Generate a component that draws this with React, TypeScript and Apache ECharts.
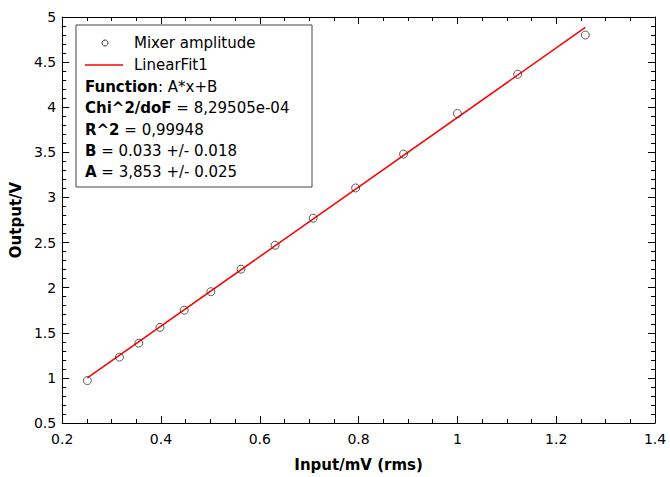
import React, { useEffect, useRef } from "react";
import * as echarts from "echarts";

const inputX = [0.251, 0.316, 0.355, 0.398, 0.447, 0.501, 0.562, 0.631, 0.708, 0.794, 0.891, 1.0, 1.122, 1.259];
const outputY = [0.97, 1.23, 1.385, 1.56, 1.75, 1.955, 2.205, 2.47, 2.77, 3.105, 3.48, 3.93, 4.365, 4.80];
const fitX = [0.251, 1.259];
const fitY = [1.0, 4.884];
const legendLines = [
  "{b|Function}: A*x+B",
  "{b|Chi^2/doF} = 8,29505e-04",
  "{b|R^2} = 0,99948",
  "{b|B} = 0.033 +/- 0.018",
  "{b|A} = 3,853 +/- 0.025",
];

const FONT = "DejaVu Sans";

export default function App() {
  const ref = useRef<HTMLDivElement>(null);
  useEffect(() => {
    const chart = echarts.init(ref.current!, null, { renderer: "svg" });
    const axisCommon = {
      axisLine: { show: true, lineStyle: { color: "#000", width: 1 } },
      splitLine: { show: false },
    };
    const lx = 76, ly = 25;
    const graphic: any[] = [
      { type: "rect", shape: { x: lx, y: ly, width: 236, height: 162 }, style: { fill: "#fff", stroke: "#444", lineWidth: 1 }, z: 100 },
      { type: "circle", shape: { cx: 105, cy: 43, r: 3 }, style: { fill: "none", stroke: "#333", lineWidth: 1 }, z: 101 },
      { type: "line", shape: { x1: 85, y1: 65, x2: 123, y2: 65 }, style: { stroke: "#ff0000", lineWidth: 1.5 }, z: 101 },
      { type: "text", x: 134, y: 43, style: { text: "Mixer amplitude", font: `15px '${FONT}'`, fill: "#000", verticalAlign: "middle" }, z: 101 },
      { type: "text", x: 134, y: 65, style: { text: "LinearFit1", font: `15px '${FONT}'`, fill: "#000", verticalAlign: "middle" }, z: 101 },
    ];
    legendLines.forEach((t, i) => {
      graphic.push({
        type: "text",
        x: 85,
        y: 87 + i * 21.3,
        z: 101,
        style: {
          text: t,
          fontFamily: FONT,
          fontSize: 15,
          fill: "#000",
          verticalAlign: "middle",
          rich: { b: { fontWeight: "bold", fontFamily: FONT, fontSize: 15, fill: "#000" } },
        },
      });
    });
    chart.setOption({
      animation: false,
      backgroundColor: "#fff",
      textStyle: { fontFamily: FONT },
      grid: { left: 62, right: 15, top: 17, bottom: 53 },
      xAxis: [
        {
          type: "value", min: 0.2, max: 1.4, interval: 0.2,
          ...axisCommon,
          axisTick: { show: true, inside: true, length: 7, lineStyle: { color: "#000" } },
          minorTick: { show: true, splitNumber: 4, length: 4, lineStyle: { color: "#000" } },
          axisLabel: { color: "#000", fontSize: 14, fontFamily: FONT, margin: 9, formatter: (v: number) => String(+v.toFixed(1)) },
          name: "Input/mV (rms)", nameLocation: "middle", nameGap: 34,
          nameTextStyle: { color: "#000", fontWeight: "bold", fontSize: 15, fontFamily: FONT },
        },
        {
          type: "value", min: 0.2, max: 1.4, interval: 0.2, position: "top",
          ...axisCommon,
          axisTick: { show: true, inside: true, length: 7, lineStyle: { color: "#000" } },
          minorTick: { show: true, splitNumber: 4, length: 4, lineStyle: { color: "#000" } },
          axisLabel: { show: false },
        },
      ],
      yAxis: [
        {
          type: "value", min: 0.5, max: 5, interval: 0.5,
          ...axisCommon,
          axisTick: { show: true, inside: true, length: 7, lineStyle: { color: "#000" } },
          minorTick: { show: true, splitNumber: 5, length: 4, lineStyle: { color: "#000" } },
          axisLabel: { color: "#000", fontSize: 14, fontFamily: FONT, margin: 6, formatter: (v: number) => String(+v.toFixed(1)) },
          name: "Output/V", nameLocation: "middle", nameGap: 32,
          nameTextStyle: { color: "#000", fontWeight: "bold", fontSize: 15, fontFamily: FONT },
        },
        {
          type: "value", min: 0.5, max: 5, interval: 0.5, position: "right",
          ...axisCommon,
          axisTick: { show: true, inside: true, length: 7, lineStyle: { color: "#000" } },
          minorTick: { show: true, splitNumber: 5, length: 4, lineStyle: { color: "#000" } },
          axisLabel: { show: false },
        },
      ],
      series: [
        {
          name: "LinearFit1",
          type: "line",
          data: fitX.map((x, i) => [x, fitY[i]]),
          showSymbol: false,
          lineStyle: { color: "#ff0000", width: 1.5 },
          z: 2,
        },
        {
          name: "Mixer amplitude",
          type: "scatter",
          data: inputX.map((x, i) => [x, outputY[i]]),
          symbol: "circle",
          symbolSize: 8,
          itemStyle: { color: "rgba(0,0,0,0)", borderColor: "#333", borderWidth: 1 },
          z: 3,
        },
      ],
      graphic,
    });
    return () => chart.dispose();
  }, []);
  return <div ref={ref} style={{ width: 670, height: 477, position: "absolute", left: 0, top: 0 }} />;
}
